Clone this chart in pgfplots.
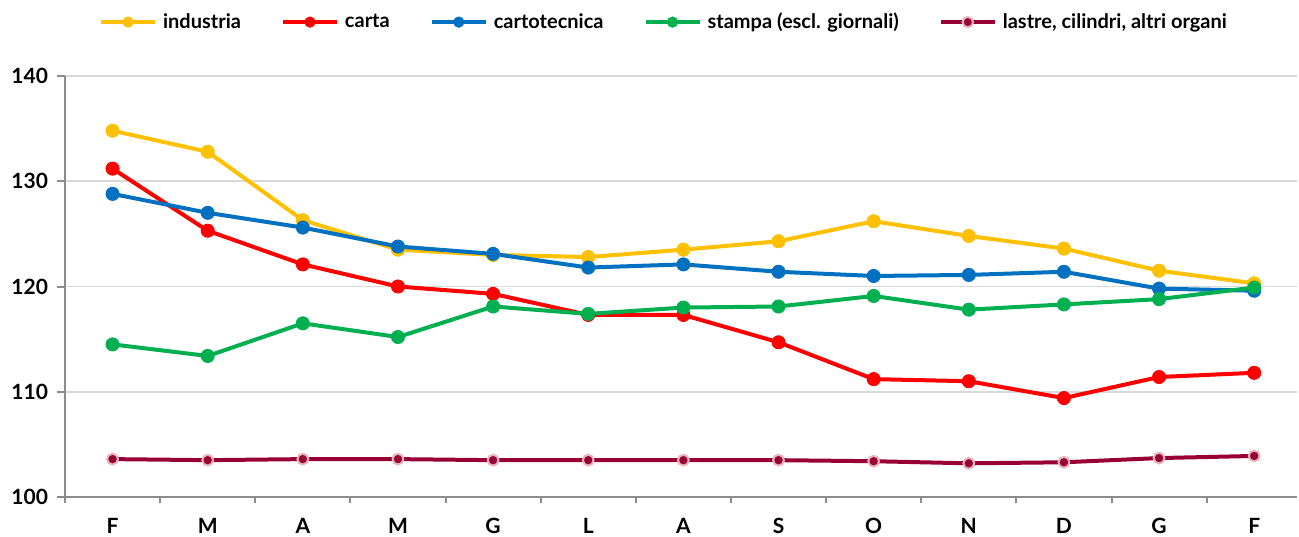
\documentclass[border=0pt]{standalone}
\usepackage{pgfplots}
\pgfplotsset{compat=1.18}
\usepackage{fontspec}
\setmainfont{Lato}
\definecolor{cInd}{HTML}{FFC000}
\definecolor{cCar}{HTML}{FF0000}
\definecolor{cCtt}{HTML}{0070C0}
\definecolor{cSta}{HTML}{00B050}
\definecolor{cLas}{HTML}{990033}
\definecolor{cLasE}{HTML}{E8B4BC}
\definecolor{cGrid}{HTML}{D9D9D9}
\definecolor{cAxis}{HTML}{8C8C8C}
\begin{document}
\begin{tikzpicture}
\useasboundingbox (-32.5pt,-19.5pt) rectangle (617pt,248.5pt);
\begin{axis}[
  scale only axis,
  width=616pt, height=210.5pt,
  xmin=-0.5, xmax=12.45,
  ymin=100, ymax=140,
  ytick={100,110,120,130,140},
  xtick={0,...,12},
  xticklabels={F,M,A,M,G,L,A,S,O,N,D,G,F},
  minor xtick={-0.5,0.5,...,12.5},
  major x tick style={draw=none},
  axis x line*=bottom, axis y line*=left,
  axis line style={draw=cAxis, line width=1pt, -},
  tick style={draw=cAxis, line width=1pt},
  tick align=outside,
  major tick length=4pt, minor tick length=3pt,
  ymajorgrids, grid style={draw=cGrid, line width=0.8pt},
  /pgf/number format/assume math mode=true,
  ticklabel style={font=\bfseries\fontsize{10.5}{12}\selectfont},
  xticklabel style={yshift=-3pt},
  yticklabel style={xshift=-1pt},
  legend style={at={(0.487,1.128)}, anchor=center, draw=none, fill=none,
    legend columns=-1, font=\bfseries\fontsize{10}{12}\selectfont,
    /tikz/every odd column/.append style={column sep=1pt},
    /tikz/every even column/.append style={column sep=18pt}},
  legend image code/.code={\draw[mark repeat=2,mark phase=2,#1,mark size=2.6pt] plot coordinates {(0pt,0pt) (13.5pt,0pt) (27pt,0pt)};},
  every axis plot/.append style={line width=2pt, mark=*, mark size=3.3pt, mark options={line width=0.4pt}},
]
\addplot[color=cInd] coordinates {(0,134.8)(1,132.8)(2,126.3)(3,123.5)(4,123.0)(5,122.8)(6,123.5)(7,124.3)(8,126.2)(9,124.8)(10,123.6)(11,121.5)(12,120.3)};
\addlegendentry{industria}
\addplot[color=cCar] coordinates {(0,131.2)(1,125.3)(2,122.1)(3,120.0)(4,119.3)(5,117.3)(6,117.3)(7,114.7)(8,111.2)(9,111.0)(10,109.4)(11,111.4)(12,111.8)};
\addlegendentry{carta}
\addplot[color=cCtt] coordinates {(0,128.8)(1,127.0)(2,125.6)(3,123.8)(4,123.1)(5,121.8)(6,122.1)(7,121.4)(8,121.0)(9,121.1)(10,121.4)(11,119.8)(12,119.6)};
\addlegendentry{cartotecnica}
\addplot[color=cSta] coordinates {(0,114.5)(1,113.4)(2,116.5)(3,115.2)(4,118.1)(5,117.4)(6,118.0)(7,118.1)(8,119.1)(9,117.8)(10,118.3)(11,118.8)(12,119.9)};
\addlegendentry{stampa (escl. giornali)}
\addplot[color=cLas, mark size=2.7pt, mark options={fill=cLas, draw=cLasE, line width=1pt}] coordinates {(0,103.6)(1,103.5)(2,103.6)(3,103.6)(4,103.5)(5,103.5)(6,103.5)(7,103.5)(8,103.4)(9,103.2)(10,103.3)(11,103.7)(12,103.9)};
\addlegendentry{lastre, cilindri, altri organi}
\end{axis}
\end{tikzpicture}
\end{document}
